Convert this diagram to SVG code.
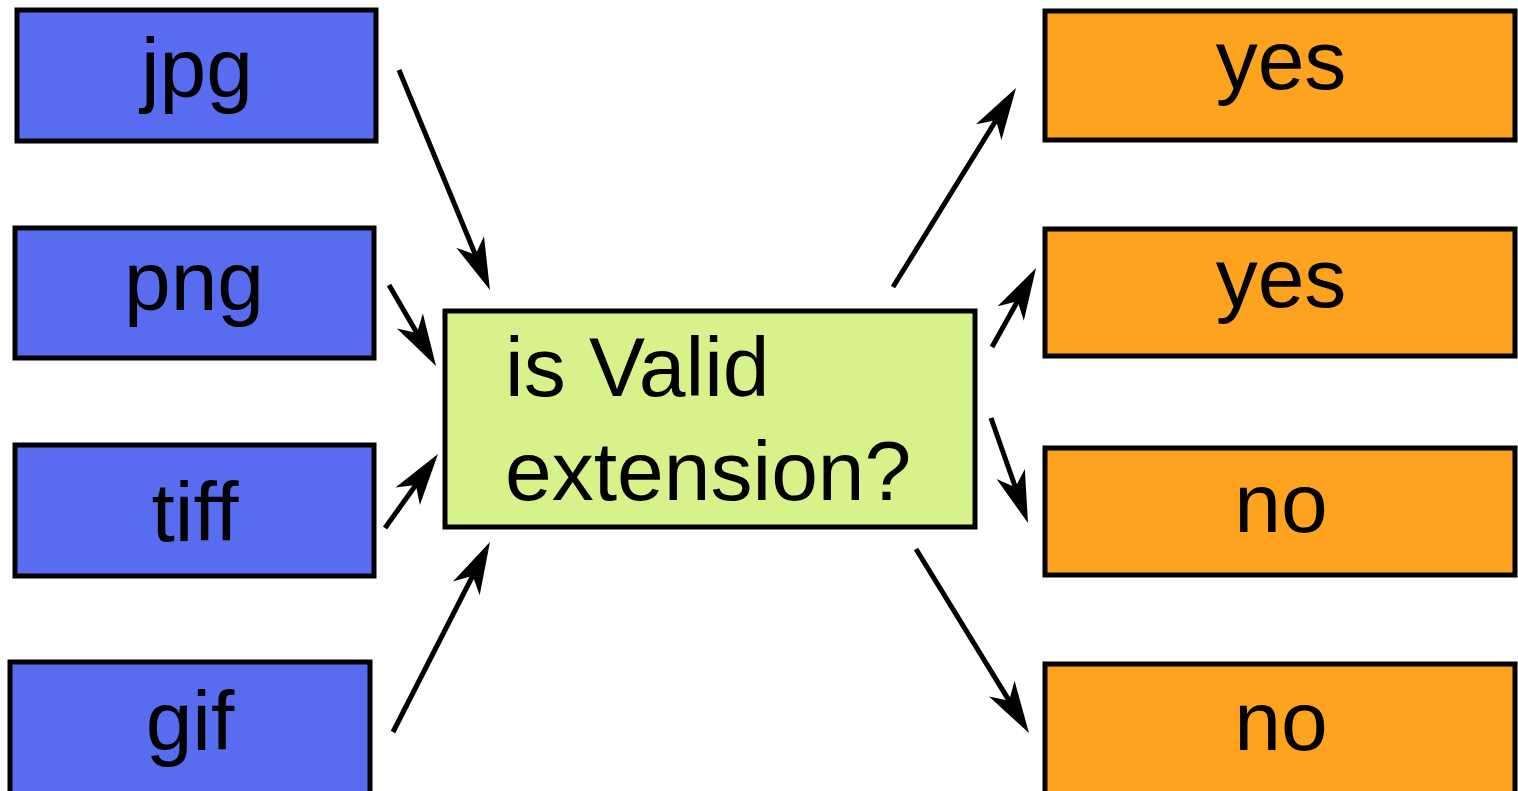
<svg xmlns="http://www.w3.org/2000/svg" width="1518" height="791" viewBox="0 0 1518 791">
<defs>
<style>
.box{stroke:#000;stroke-width:5}
.in{fill:#586cf0}
.out{fill:#fda31f}
.mid{fill:#d8f28b}
text{font-family:"Liberation Sans",Arial,sans-serif;font-size:84px;fill:#000}
.c{text-anchor:middle}
.edge{stroke:#000;stroke-width:5;fill:none;marker-end:url(#ah)}
.head{fill:#000;stroke:none}
</style>
<marker id="ah" markerUnits="userSpaceOnUse" markerWidth="56" markerHeight="34" viewBox="0 0 56 34" refX="42" refY="17" orient="auto">
<path class="head" d="M54,17 L2,2 L16,17 L2,32 Z"/>
</marker>
</defs>
<rect width="1518" height="791" fill="#fff"/>
<g id="jpg"><rect class="box in" x="17" y="10" width="359" height="131"/><text class="c" x="197" y="97">jpg</text></g>
<g id="png"><rect class="box in" x="15" y="228" width="359" height="130"/><text class="c" x="194" y="310">png</text></g>
<g id="tiff"><rect class="box in" x="15" y="445" width="359" height="131"/><text class="c" x="195" y="541">tiff</text></g>
<g id="gif"><rect class="box in" x="10" y="662" width="360" height="140"/><text class="c" x="190" y="750">gif</text></g>
<g id="check"><rect class="box mid" x="445" y="311" width="530" height="216"/><text x="505" y="396">is Valid</text><text x="505" y="500">extension?</text></g>
<g id="yes1"><rect class="box out" x="1045" y="11" width="470" height="129"/><text class="c" x="1281" y="89">yes</text></g>
<g id="yes2"><rect class="box out" x="1045" y="229" width="470" height="127"/><text class="c" x="1281" y="307">yes</text></g>
<g id="no1"><rect class="box out" x="1045" y="448" width="470" height="127"/><text class="c" x="1281" y="532">no</text></g>
<g id="no2"><rect class="box out" x="1045" y="664" width="470" height="140"/><text class="c" x="1281" y="750">no</text></g>
<g id="connectors">
<line class="edge" x1="399" y1="70" x2="485.4" y2="278.9"/>
<line class="edge" x1="389" y1="285" x2="430" y2="355.6"/>
<line class="edge" x1="385" y1="528" x2="431" y2="463.8"/>
<line class="edge" x1="393" y1="732" x2="484.5" y2="552.7"/>
<line class="edge" x1="893" y1="287" x2="1009.7" y2="98.2"/>
<line class="edge" x1="992" y1="347" x2="1030.2" y2="278.5"/>
<line class="edge" x1="991" y1="418" x2="1024" y2="511.7"/>
<line class="edge" x1="916" y1="549" x2="1022.7" y2="722.8"/>
</g>
</svg>
